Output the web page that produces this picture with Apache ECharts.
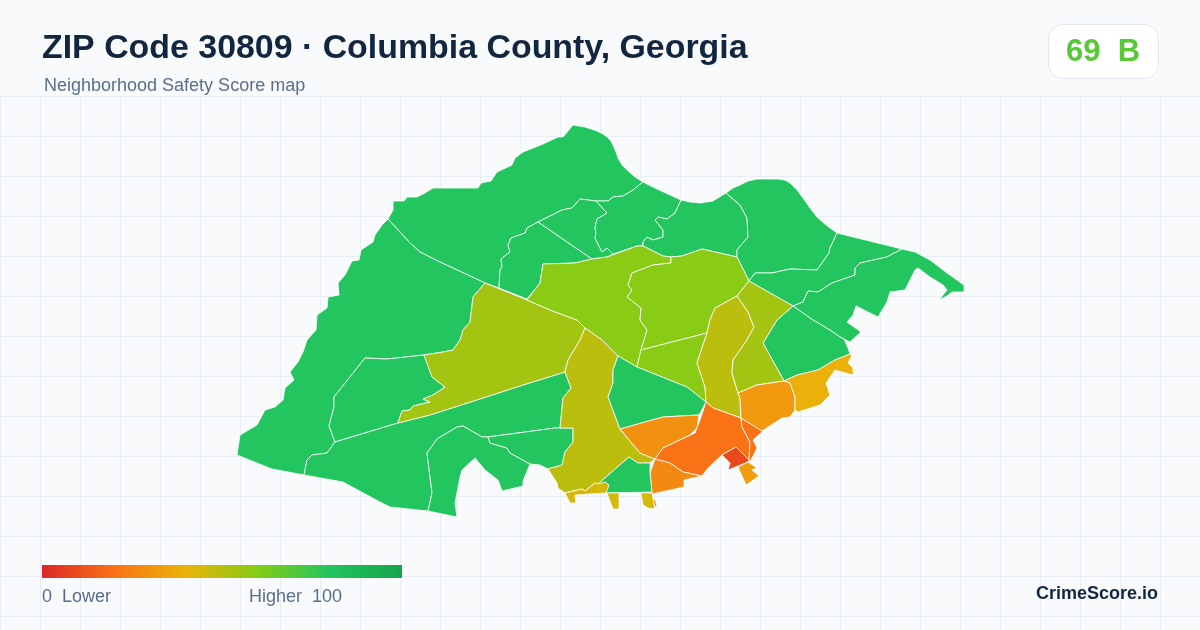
<!DOCTYPE html>
<html>
<head>
<meta charset="utf-8">
<title>ZIP Code 30809</title>
<style>
	html, body { margin: 0; padding: 0; background: #f8fafc; }
	#chart { width: 1200px; height: 630px; }
</style>
<script src="https://cdn.jsdelivr.net/npm/echarts@6/dist/echarts.min.js"></script>
</head>
<body>
<div id="chart"></div>
<script>
var titleText = 'ZIP Code 30809 · Columbia County, Georgia';
var subtitleText = 'Neighborhood Safety Score map';
var overallScore = 69;
var overallGrade = 'B';
var legendLow = '0  Lower';
var legendHigh = 'Higher  100';
var brandText = 'CrimeScore.io';

// score scale
var scaleColors = ['#dc2626', '#f97316', '#eab308', '#84cc16', '#22c55e', '#16a34a'];

var zoneNames = [
	'North', 'West', 'West pocket', 'South fork', 'South creek', 'South branch',
	'Pocket A', 'Pocket B', 'Hills', 'Riverside', 'East ridge', 'East arm', 'Bluff',
	'Old mill', 'Center west', 'Center', 'Center south', 'Ridge', 'Parkway', 'West lime',
	'Central south', 'Lake', 'Crossing', 'Downtown', 'Downtown east', 'Bottom', 'Core', 'Point',
	'Bay', 'Shore', 'South green', 'Strip'
];
var zoneScores = [
	80, 80, 80, 80, 80, 80,
	80, 80, 80, 80, 80, 80, 80,
	80, 54, 59, 59, 59, 49, 54,
	49, 80, 29, 20, 20, 27, 9, 33,
	32, 39, 80, 44
];
// outlines, in map units
var zoneOutlines = [
	[[[388,219],[393,210],[393,201],[404,201],[407,197],[417,197],[425,193],[433,188],[443,188],[463,188],[478,188],[481,183],[491,181],[497,172],[512,165],[515,158],[523,152],[543,144],[558,137],[563,137],[573,125],[585,127],[597,131],[603,134],[607,137],[611,141],[613,145],[616,152],[618,158],[622,165],[627,170],[635,177],[643,182],[633,190],[623,196],[613,197],[608,201],[596,201],[580,199],[572,208],[562,210],[538,222],[527,228],[525,233],[511,238],[508,245],[510,252],[501,259],[502,267],[500,270],[499,288],[485,283],[440,262],[420,252],[410,243]]],
	[[[388,219],[382,225],[375,235],[373,242],[361,250],[359,260],[352,261],[345,275],[338,283],[339,295],[328,297],[327,308],[317,315],[316,330],[307,340],[303,352],[298,362],[290,372],[294,380],[285,388],[283,400],[275,407],[265,410],[257,425],[240,435],[237,455],[272,469],[304,475],[307,460],[312,455],[327,453],[335,442],[329,426],[334,407],[334,397],[365,358],[387,359],[424,355],[443,352],[453,350],[460,340],[463,330],[470,322],[473,297],[485,283],[440,262],[420,252],[410,243]]],
	[[[335,442],[388,426],[398,423],[400,417],[402,411],[410,410],[413,406],[430,402],[423,399],[433,395],[445,387],[432,377],[424,355],[387,359],[365,358],[334,397],[334,407],[329,426]]],
	[[[335,442],[388,426],[398,423],[430,415],[483,398],[523,385],[565,372],[571,388],[563,398],[560,428],[555,428],[488,437],[482,437],[463,426],[457,427],[437,439],[427,453],[432,493],[428,511],[390,507],[380,502],[343,482],[304,475],[307,460],[312,455],[327,453]]],
	[[[428,511],[457,517],[455,503],[460,477],[462,470],[475,458],[485,470],[498,480],[502,491],[523,486],[523,481],[530,464],[510,453],[507,448],[490,443],[488,437],[482,437],[463,426],[457,427],[437,439],[427,453],[432,493]]],
	[[[488,437],[555,428],[573,428],[573,442],[565,452],[562,465],[548,469],[540,465],[530,464],[510,453],[507,448],[490,443]]],
	[[[499,288],[500,270],[502,267],[501,259],[510,252],[508,245],[511,238],[525,233],[527,228],[538,222],[592,259],[575,263],[543,264],[540,283],[527,299]]],
	[[[538,222],[562,210],[572,208],[580,199],[596,201],[607,213],[597,219],[595,228],[596,233],[595,238],[602,252],[607,248],[613,254],[607,257],[592,259]]],
	[[[643,182],[657,189],[681,200],[675,213],[667,219],[658,217],[655,220],[663,230],[663,237],[653,240],[647,237],[643,242],[642,246],[637,246],[613,254],[607,248],[602,252],[595,238],[596,233],[595,228],[597,219],[607,213],[596,201],[608,201],[613,197],[623,196],[633,190]]],
	[[[681,200],[690,202],[700,203],[713,201],[726,193],[740,205],[747,218],[748,237],[737,250],[737,257],[702,249],[682,256],[671,257],[663,256],[643,246],[642,246],[643,242],[647,237],[653,240],[663,237],[663,230],[655,220],[658,217],[667,219],[675,213]]],
	[[[726,193],[733,188],[740,185],[748,181],[757,179],[778,179],[785,180],[790,183],[797,190],[803,198],[810,208],[817,217],[826,225],[837,233],[830,248],[829,253],[817,270],[790,269],[772,273],[755,273],[749,281],[737,257],[737,250],[748,237],[747,218],[740,205]]],
	[[[837,233],[902,249],[887,257],[860,263],[855,268],[855,275],[832,283],[818,292],[808,291],[803,302],[793,306],[749,281],[755,273],[772,273],[790,269],[817,270],[829,253],[830,248]]],
	[[[902,249],[915,252],[930,260],[947,273],[964,285],[964,292],[952,292],[947,296],[939,300],[947,290],[943,285],[930,277],[918,268],[915,270],[905,290],[890,292],[887,302],[878,317],[856,306],[853,315],[847,322],[861,332],[850,342],[844,339],[840,337],[830,330],[813,320],[793,306],[803,302],[808,291],[818,292],[832,283],[855,275],[855,268],[860,263],[887,257]]],
	[[[793,306],[813,320],[830,330],[840,337],[844,339],[848,348],[850,354],[835,360],[818,370],[797,375],[784,381],[763,343],[777,320]]],
	[[[485,283],[527,300],[550,310],[577,320],[585,328],[580,340],[568,360],[565,372],[523,385],[483,398],[430,415],[398,423],[400,417],[402,411],[410,410],[413,406],[430,402],[423,399],[433,395],[445,387],[432,377],[424,355],[443,352],[453,350],[460,340],[463,330],[470,322],[473,297]]],
	[[[543,264],[575,263],[592,259],[607,257],[637,246],[643,246],[663,256],[671,257],[671,263],[653,265],[632,273],[628,285],[632,290],[627,297],[641,308],[640,320],[647,330],[641,350],[637,367],[618,356],[602,340],[585,328],[577,320],[550,310],[527,300],[540,283]]],
	[[[671,257],[682,256],[702,249],[737,257],[749,281],[737,296],[715,308],[710,320],[707,333],[641,350],[647,330],[640,320],[641,308],[627,297],[632,290],[628,285],[632,273],[653,265],[671,263]]],
	[[[641,350],[707,333],[697,363],[705,387],[706,402],[687,387],[637,367]]],
	[[[737,296],[748,312],[754,327],[747,340],[733,360],[732,373],[738,393],[740,398],[741,418],[713,408],[706,402],[705,387],[697,363],[707,333],[710,320],[715,308]]],
	[[[749,281],[793,306],[777,320],[763,343],[784,381],[757,385],[738,393],[732,373],[733,360],[747,340],[754,327],[748,312],[737,296]]],
	[[[585,328],[602,340],[618,356],[613,370],[613,383],[608,397],[620,429],[640,453],[655,459],[650,463],[638,463],[629,457],[598,484],[595,483],[585,491],[582,489],[565,493],[558,488],[557,483],[548,469],[562,465],[565,452],[573,442],[573,428],[560,428],[563,398],[571,388],[565,372],[568,360],[580,340]]],
	[[[618,356],[637,367],[687,387],[706,402],[699,415],[663,417],[620,429],[608,397],[613,383],[613,370]]],
	[[[620,429],[663,417],[699,415],[697,428],[690,435],[663,448],[655,459],[640,453]]],
	[[[706,402],[713,408],[741,418],[742,427],[750,442],[749,460],[736,447],[722,455],[708,468],[702,476],[683,472],[670,463],[655,459],[663,448],[695,433],[700,420]]],
	[[[741,418],[763,431],[753,440],[757,448],[750,462],[749,460],[750,442],[742,427]]],
	[[[655,459],[670,463],[683,472],[702,476],[693,478],[684,480],[684,487],[652,494],[650,473]],[[653,500],[655,499],[657,506],[655,507]]],
	[[[736,447],[749,460],[748,462],[728,470],[730,463],[722,455]]],
	[[[748,462],[757,468],[752,470],[759,476],[746,485],[738,467]]],
	[[[738,393],[757,385],[784,381],[790,383],[795,397],[795,410],[790,417],[782,418],[762,431],[741,418],[740,398]]],
	[[[784,381],[797,375],[818,370],[835,360],[850,354],[852,355],[848,363],[853,368],[853,375],[835,370],[826,383],[830,395],[820,405],[798,412],[795,410],[795,397],[790,383]]],
	[[[629,457],[638,463],[650,463],[650,473],[652,492],[607,493],[598,484]]],
	[[[565,493],[582,489],[585,491],[595,483],[598,484],[605,482],[609,485],[606,493],[575,495],[576,503],[570,503]],[[607,493],[619,493],[619,509],[613,509]],[[641,493],[652,493],[655,509],[648,508],[643,505]]]
];

function buildGeoJson() {
	var features = zoneNames.map(function(name, index) {
		return {
			type: 'Feature',
			properties: { name: name },
			geometry: { type: 'MultiPolygon', coordinates: zoneOutlines[index].map(function(ring) { return [ring]; }) }
		};
	});
	return { type: 'FeatureCollection', features: features };
}

function buildPageGrid() {
	var lines = [], x, y;
	for (x = 0.5; x < 1200; x += 40) {
		lines.push({ type: 'line', silent: true, shape: { x1: x, y1: 96.5, x2: x, y2: 630 }, style: { stroke: '#e8eef3', lineWidth: 1 } });
	}
	for (y = 96.5; y < 630; y += 40) {
		lines.push({ type: 'line', silent: true, shape: { x1: 0, y1: y, x2: 1200, y2: y }, style: { stroke: '#e8eef3', lineWidth: 1 } });
	}
	return lines;
}

// the legend bar has square ends, the visualMap bar does not
function buildScaleGradient() {
	var stops = scaleColors.map(function(color, index) {
		return { offset: index / (scaleColors.length - 1), color: color };
	});
	return new echarts.graphic.LinearGradient(0, 0, 1, 0, stops);
}

var fontName = '"Liberation Sans", Arial, sans-serif';
var chart = echarts.init(document.getElementById('chart'), null, { renderer: 'canvas' });
echarts.registerMap('zip30809', buildGeoJson());

var seriesData = zoneNames.map(function(name, index) {
	return { name: name, value: zoneScores[index] };
});

chart.setOption({
	animation: false,
	backgroundColor: '#f8fafc',
	tooltip: { show: false },
	title: [
		{ text: titleText, left: 42, top: 32, padding: 0, textStyle: { fontFamily: fontName, fontSize: 33.9, fontWeight: 'bold', color: '#12263f' } },
		{ text: subtitleText, left: 44, top: 77, padding: 0, textStyle: { fontFamily: fontName, fontSize: 18, fontWeight: 'normal', color: '#5a6e8c' } }
	],
	visualMap: {
		type: 'continuous',
		show: false,
		seriesIndex: 0,
		min: 0,
		max: 100,
		inRange: { color: scaleColors }
	},
	graphic: {
		elements: [
			{ type: 'group', z: -10, children: buildPageGrid() },
			{
				type: 'rect', z: 5,
				shape: { x: 42, y: 565, width: 360, height: 13 },
				style: { fill: buildScaleGradient() }
			},
			{
				type: 'rect', z: 5,
				shape: { x: 1048.5, y: 24.5, width: 110, height: 54, r: 14 },
				style: { fill: '#ffffff', stroke: '#e2e8f0', lineWidth: 1 }
			},
			{
				type: 'text', z: 6, x: 1103, y: 52.5,
				style: { text: overallScore + '  ' + overallGrade, fill: '#58c936', font: 'bold 31px ' + fontName, textAlign: 'center', textVerticalAlign: 'middle' }
			},
			{ type: 'text', z: 6, x: 42, y: 597.5, style: { text: legendLow, fill: '#5a6e8c', font: '18px ' + fontName, textAlign: 'left', textVerticalAlign: 'middle' } },
			{ type: 'text', z: 6, x: 249, y: 597.5, style: { text: legendHigh, fill: '#5a6e8c', font: '18px ' + fontName, textAlign: 'left', textVerticalAlign: 'middle' } },
			{ type: 'text', z: 6, x: 1158, y: 594.5, style: { text: brandText, fill: '#12263f', font: 'bold 18px ' + fontName, textAlign: 'right', textVerticalAlign: 'middle' } }
		]
	},
	series: [{
		type: 'map',
		map: 'zip30809',
		projection: {
			project: function(p) { return p; },
			unproject: function(p) { return p; }
		},
		boundingCoords: [[0, 0], [1200, 630]],
		left: 0,
		top: 0,
		width: 1200,
		height: 630,
		roam: false,
		selectedMode: false,
		silent: true,
		label: { show: false },
		emphasis: { disabled: true },
		itemStyle: { borderColor: '#ffffff', borderWidth: 0.8 },
		data: seriesData
	}]
});
</script>
</body>
</html>
